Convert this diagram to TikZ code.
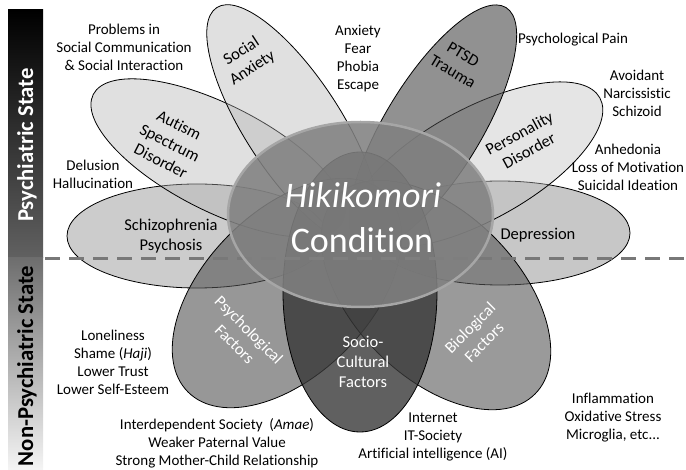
\documentclass[tikz,border=0pt]{standalone}
\usepackage{fontspec}
\setmainfont{Carlito}[Ligatures={NoCommon}]

\begin{document}
\begin{tikzpicture}[x=1pt,y=1pt]
\tikzstyle{every node}+=[inner sep=0pt]
\tikzstyle{petal}=[draw=black, line width=0.8pt]
\tikzstyle{lightpetal}=[petal, fill opacity=0.4]
\tikzstyle{midpetal}=[petal, fill opacity=0.6]
\tikzstyle{note}=[font=\fontsize{15}{18}\selectfont, align=center]
\tikzstyle{petaltext}=[font=\fontsize{16.5}{20}\selectfont, align=center]
\tikzstyle{statetext}=[font=\fontsize{22.7}{26}\selectfont\bfseries, rotate=90]
\tikzstyle{bigtext}=[font=\fontsize{36}{40}\selectfont, text=white]
\useasboundingbox (0,0) rectangle (686,-470);
% state bar
\shade [top color=black, bottom color=black!62] (8,-10) rectangle (43,-258);
\shade [top color=black!57, bottom color=black!4] (8,-258) rectangle (43,-470);
\node [statetext, text=white] (psyState) at (27,-145) {Psychiatric State};
\node [statetext] (nonState) at (27,-366) {Non-Psychiatric State};
% petals
\draw [lightpetal, fill=black!50] (197,-236) ellipse [x radius=130, y radius=52];
\draw [lightpetal, fill=black!55] (500,-233) ellipse [x radius=130, y radius=52];
\draw [lightpetal, fill=black!30, rotate around={-27:(218,-158)}] (218,-158) ellipse [x radius=140, y radius=53];
\draw [lightpetal, fill=black!25, rotate around={28.6:(477,-165)}] (477,-165) ellipse [x radius=140, y radius=56];
\draw [lightpetal, fill=black!30, rotate around={-57:(293,-125)}] (293,-125) ellipse [x radius=140, y radius=48];
\draw [midpetal, fill=black!72, rotate around={58.6:(433,-127)}] (433,-127) ellipse [x radius=140, y radius=48];
\draw [midpetal, fill=black!68, rotate around={45:(287,-293)}] (287,-293) ellipse [x radius=140, y radius=82];
\draw [midpetal, fill=black!66, rotate around={-45:(436,-295)}] (436,-295) ellipse [x radius=140, y radius=82];
\draw [petal, fill=black!78, fill opacity=0.8] (360,-292) ellipse [x radius=77, y radius=140];
% border between states
\draw [black!53, line width=3pt, dash pattern=on 15pt off 9pt] (45,-259) -- (686,-259);
% core
\draw [fill=black!50, fill opacity=0.87, draw=black!35, line width=2.5pt] (360.5,-214.5) ellipse [x radius=132.5, y radius=92.5];
\node [bigtext] (hikiText) at (363,-195) {\itshape Hikikomori};
\node [bigtext] (condText) at (362,-240) {Condition};
% petal labels
\node [petaltext] (schizoText) at (171,-236) {Schizophrenia\\Psychosis};
\node [petaltext] (depText) at (538,-235) {Depression};
\node [petaltext, rotate=-27] (autismText) at (170,-143) {Autism\\Spectrum\\Disorder};
\node [petaltext, rotate=28.6] (persText) at (524,-142) {Personality\\Disorder};
\node [petaltext, rotate=33] (socAnxText) at (247,-60) {Social\\Anxiety};
\node [petaltext, rotate=-31] (ptsdText) at (458,-63) {PTSD\\Trauma};
\node [petaltext, text=white, rotate=-45] (psyFacText) at (242,-337) {Psychological\\Factors};
\node [petaltext, text=white, rotate=45] (bioFacText) at (477,-335) {Biological\\Factors};
\node [petaltext, text=white] (socioText) at (363,-362) {Socio-\\Cultural\\Factors};
% side notes
\node [note] (socialNote) at (124,-47) {Problems in\\Social Communication\\\& Social Interaction};
\node [note] (anxietyNote) at (358,-59) {Anxiety\\Fear\\Phobia\\Escape};
\node [note] (painNote) at (573,-40) {Psychological Pain};
\node [note] (persNote) at (637,-93) {Avoidant\\Narcissistic\\Schizoid};
\node [note] (moodNote) at (628,-167) {Anhedonia\\Loss of Motivation\\Suicidal Ideation};
\node [note] (psychosisNote) at (93,-174) {Delusion\\Hallucination};
\node [note] (selfNote) at (113,-362) {Loneliness\\Shame (\textit{Haji})\\Lower Trust\\Lower Self-Esteem};
\node [note] (familyNote) at (217,-443) {Interdependent Society~ (\textit{Amae})\\Weaker Paternal Value\\Strong Mother-Child Relationship};
\node [note] (itNote) at (433,-437) {Internet\\IT-Society\\Artificial intelligence (AI)};
\node [note] (bioNote) at (613,-418) {Inflammation\\Oxidative Stress\\Microglia, etc...};
\end{tikzpicture}
\end{document}
